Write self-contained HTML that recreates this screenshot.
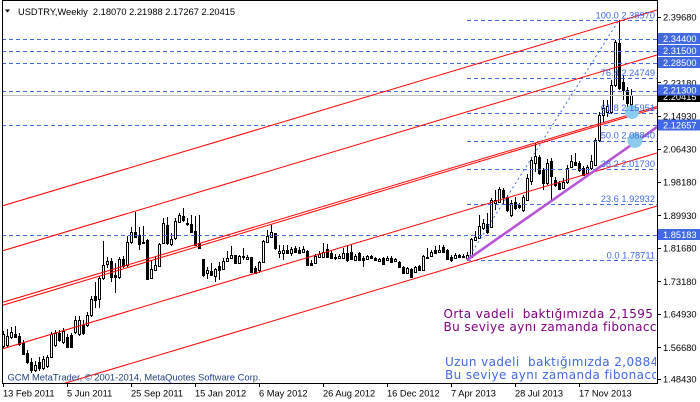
<!DOCTYPE html>
<html><head><meta charset="utf-8">
<style>
html,body{margin:0;padding:0;background:#fff;width:700px;height:402px;overflow:hidden}
svg{display:block}
.ax{font-family:"Liberation Sans",Arial,sans-serif;font-size:9.3px;fill:#000}
.bx{font-family:"Liberation Sans",Arial,sans-serif;font-size:9.3px;fill:#fff}
.fb{font-family:"Liberation Sans",Arial,sans-serif;font-size:9.3px;fill:#4169E1}
.big{font-family:"DejaVu Sans","Liberation Sans",sans-serif;font-size:12px;letter-spacing:0.4px}
</style></head><body>
<svg width="700" height="402" viewBox="0 0 700 402" xmlns="http://www.w3.org/2000/svg">
<defs><clipPath id="c"><rect x="3" y="1" width="654" height="382"/></clipPath>
<clipPath id="c2"><rect x="3" y="1" width="653" height="382"/></clipPath></defs>
<rect width="700" height="402" fill="#fff"/>
<g clip-path="url(#c)">
<!-- candles: wicks -->
<path stroke="#000" stroke-width="1" fill="none" d="M3.5 331V348M7.5 329V347M11.5 327V339M15.5 326V338M19.5 333V346M23.5 340V355M27.5 350V364M31.5 358V373M35.5 361V372M39.5 357V371M43.5 356V370M47.5 355V368M51.5 332V358M55.5 330V347M59.5 330V342M63.5 328V344M67.5 334V348M71.5 333V348M75.5 316V334M79.5 316V336M83.5 320V335M87.5 312V327M91.5 296V317M95.5 282V308M99.5 276V308M103.5 241V280M107.5 257V268M111.5 258V282M115.5 263V293M119.5 257V279M123.5 256V268M127.5 236V267M131.5 227V244M135.5 212V238M139.5 227V250M143.5 226V244M147.5 239V280M151.5 260V279M155.5 257V271M159.5 243V267M163.5 218V244M167.5 217V245M171.5 233V246M175.5 218V240M179.5 213V223M183.5 208V222M187.5 218V226M191.5 215V233M195.5 216V245M199.5 215V248M203.5 259V277M207.5 267V279M211.5 263V276M215.5 268V282M219.5 262V280M223.5 258V270M227.5 251V262M231.5 246V259M235.5 255V264M239.5 255V264M243.5 248V260M247.5 255V260M251.5 257V272M255.5 266V274M259.5 261V273M263.5 240V263M267.5 230V243M271.5 225V238M275.5 233V250M279.5 245V258M283.5 245V260M287.5 245V254M291.5 247V256M295.5 246V253M299.5 247V254M303.5 246V253M307.5 250V266M311.5 260V266M315.5 254V264M319.5 251V258M323.5 243V258M327.5 244V258M331.5 251V259M335.5 254V260M339.5 254V259M343.5 248V259M347.5 245V262M351.5 245V260M355.5 254V261M359.5 252V261M363.5 256V267M367.5 255V260M371.5 255V259M375.5 257V261M379.5 258V262M383.5 257V265M387.5 256V261M391.5 256V263M395.5 258V262M399.5 261V268M403.5 266V274M407.5 267V274M411.5 268V278M415.5 266V273M419.5 265V271M423.5 255V271M427.5 248V259M431.5 250V257M435.5 246V254M439.5 245V253M443.5 245V253M447.5 249V260M451.5 255V262M455.5 253V259M459.5 254V258M463.5 254V258M467.5 252V260M471.5 238V258M475.5 231V241M479.5 215V239M483.5 219V230M487.5 213V234M491.5 198V228M495.5 190V210M499.5 187V203M503.5 188V205M507.5 195V212M511.5 200V217M515.5 197V210M519.5 203V209M523.5 195V212M527.5 174V201M531.5 157V185M535.5 143V172M539.5 155V175M543.5 168V190M547.5 159V185M551.5 158V202M555.5 177V187M559.5 181V190M563.5 178V189M567.5 165V184M571.5 155V168M575.5 153V166M579.5 161V172M583.5 166V176M587.5 165V175M591.5 155V170M595.5 138V166M599.5 112V142M603.5 100V122M607.5 100V117M611.5 80V114M615.5 40V87M619.5 20V90M623.5 75V100M627.5 87V108M631.5 89V108"/>
<!-- candle bodies (outer) -->
<path fill="#000" d="M2 334h3v13h-3zM6 336h3v10h-3zM10 332h3v6h-3zM14 334h3v4h-3zM18 336h3v9h-3zM22 343h3v12h-3zM26 353h3v10h-3zM30 362h3v9h-3zM34 365h3v6h-3zM38 362h3v7h-3zM42 359h3v10h-3zM46 357h3v10h-3zM50 334h3v24h-3zM54 333h3v13h-3zM58 333h3v8h-3zM62 331h3v12h-3zM66 337h3v11h-3zM70 335h3v13h-3zM74 320h3v13h-3zM78 320h3v15h-3zM82 325h3v9h-3zM86 315h3v11h-3zM90 299h3v17h-3zM94 296h3v5h-3zM98 278h3v22h-3zM102 265h3v14h-3zM106 261h3v4h-3zM110 261h3v17h-3zM114 275h3v3h-3zM118 259h3v19h-3zM122 259h3v8h-3zM126 242h3v24h-3zM130 232h3v11h-3zM134 232h3v6h-3zM138 235h3v10h-3zM142 242h3v2h-3zM146 240h3v40h-3zM150 269h3v10h-3zM154 265h3v6h-3zM158 244h3v23h-3zM162 223h3v21h-3zM166 225h3v19h-3zM170 239h3v6h-3zM174 221h3v18h-3zM178 215h3v8h-3zM182 216h3v5h-3zM186 223h3v2h-3zM190 224h3v9h-3zM194 231h3v15h-3zM198 243h3v6h-3zM202 259h3v17h-3zM206 270h3v4h-3zM210 271h3v5h-3zM214 269h3v8h-3zM218 266h3v5h-3zM222 261h3v9h-3zM226 258h3v4h-3zM230 255h3v4h-3zM234 255h3v9h-3zM238 256h3v8h-3zM242 256h3v2h-3zM246 257h3v3h-3zM250 257h3v16h-3zM254 268h3v6h-3zM258 262h3v9h-3zM262 241h3v22h-3zM266 236h3v7h-3zM270 232h3v6h-3zM274 233h3v16h-3zM278 251h3v3h-3zM282 250h3v4h-3zM286 250h3v4h-3zM290 249h3v5h-3zM294 248h3v5h-3zM298 250h3v4h-3zM302 249h3v4h-3zM306 251h3v15h-3zM310 263h3v3h-3zM314 256h3v8h-3zM318 254h3v4h-3zM322 252h3v6h-3zM326 249h3v9h-3zM330 253h3v6h-3zM334 257h3v2h-3zM338 256h3v3h-3zM342 253h3v6h-3zM346 253h3v8h-3zM350 252h3v8h-3zM354 256h3v5h-3zM358 253h3v8h-3zM362 258h3v3h-3zM366 256h3v4h-3zM370 256h3v3h-3zM374 258h3v3h-3zM378 259h3v3h-3zM382 258h3v7h-3zM386 258h3v3h-3zM390 258h3v5h-3zM394 259h3v3h-3zM398 262h3v6h-3zM402 267h3v7h-3zM406 268h3v6h-3zM410 269h3v9h-3zM414 267h3v6h-3zM418 266h3v5h-3zM422 256h3v15h-3zM426 257h3v2h-3zM430 252h3v5h-3zM434 250h3v4h-3zM438 250h3v3h-3zM442 247h3v6h-3zM446 250h3v10h-3zM450 257h3v4h-3zM454 255h3v4h-3zM458 255h3v3h-3zM462 256h3v2h-3zM466 255h3v4h-3zM470 239h3v19h-3zM474 237h3v4h-3zM478 226h3v13h-3zM482 223h3v6h-3zM486 224h3v9h-3zM490 200h3v28h-3zM494 200h3v4h-3zM498 189h3v14h-3zM502 190h3v8h-3zM506 197h3v14h-3zM510 203h3v13h-3zM514 202h3v7h-3zM518 205h3v3h-3zM522 197h3v14h-3zM526 178h3v23h-3zM530 160h3v22h-3zM534 156h3v8h-3zM538 157h3v17h-3zM542 170h3v14h-3zM546 163h3v21h-3zM550 161h3v16h-3zM554 180h3v6h-3zM558 183h3v7h-3zM562 182h3v7h-3zM566 168h3v15h-3zM570 161h3v7h-3zM574 162h3v4h-3zM578 163h3v8h-3zM582 168h3v8h-3zM586 167h3v7h-3zM590 161h3v8h-3zM594 140h3v26h-3zM598 115h3v26h-3zM602 108h3v8h-3zM606 106h3v7h-3zM610 85h3v28h-3zM614 42h3v44h-3zM618 43h3v46h-3zM622 82h3v9h-3zM626 90h3v14h-3zM630 95h3v10h-3z"/>
<!-- white interiors -->
<path fill="#fff" d="M3 335h1v11h-1zM7 337h1v8h-1zM11 333h1v4h-1zM35 366h1v4h-1zM43 360h1v8h-1zM47 358h1v8h-1zM51 335h1v22h-1zM55 334h1v11h-1zM63 332h1v10h-1zM75 321h1v11h-1zM79 321h1v13h-1zM87 316h1v9h-1zM91 300h1v15h-1zM99 279h1v20h-1zM103 266h1v12h-1zM107 262h1v2h-1zM119 260h1v17h-1zM127 243h1v22h-1zM131 233h1v9h-1zM151 270h1v8h-1zM155 266h1v4h-1zM159 245h1v21h-1zM163 224h1v19h-1zM171 240h1v4h-1zM175 222h1v16h-1zM179 216h1v6h-1zM207 271h1v2h-1zM215 270h1v6h-1zM223 262h1v7h-1zM227 259h1v2h-1zM231 256h1v2h-1zM239 257h1v6h-1zM247 258h1v1h-1zM259 263h1v7h-1zM263 242h1v20h-1zM267 237h1v5h-1zM271 233h1v4h-1zM279 252h1v1h-1zM283 251h1v2h-1zM291 250h1v3h-1zM303 250h1v2h-1zM315 257h1v6h-1zM319 255h1v2h-1zM323 253h1v4h-1zM339 257h1v1h-1zM343 254h1v4h-1zM355 257h1v3h-1zM367 257h1v2h-1zM379 260h1v1h-1zM387 259h1v1h-1zM395 260h1v1h-1zM407 269h1v4h-1zM415 268h1v4h-1zM423 257h1v13h-1zM431 253h1v3h-1zM439 251h1v1h-1zM455 256h1v2h-1zM467 256h1v2h-1zM471 240h1v17h-1zM475 238h1v2h-1zM479 227h1v11h-1zM483 224h1v4h-1zM491 201h1v26h-1zM495 201h1v2h-1zM499 190h1v12h-1zM511 204h1v11h-1zM523 198h1v12h-1zM527 179h1v21h-1zM531 161h1v20h-1zM535 157h1v6h-1zM547 164h1v19h-1zM563 183h1v5h-1zM567 169h1v13h-1zM571 162h1v5h-1zM587 168h1v5h-1zM591 162h1v6h-1zM595 141h1v24h-1zM599 116h1v24h-1zM603 109h1v6h-1zM607 107h1v5h-1zM611 86h1v26h-1zM615 43h1v42h-1zM631 96h1v8h-1z"/>

<!-- current price line -->
<line x1="2" y1="95.5" x2="657" y2="95.5" stroke="#c0c0c0" stroke-width="1"/>

<!-- full-width dashed horizontal lines -->
<g stroke="#4169E1" stroke-width="1" stroke-dasharray="4,3" fill="none">
<line x1="2" y1="39.5" x2="657" y2="39.5"/>
<line x1="2" y1="51.5" x2="657" y2="51.5"/>
<line x1="2" y1="63.5" x2="657" y2="63.5"/>
<line x1="2" y1="91.5" x2="657" y2="91.5"/>
<line x1="2" y1="125.5" x2="657" y2="125.5"/>
<line x1="2" y1="235.5" x2="657" y2="235.5"/>
<!-- fib levels -->
<line x1="467" y1="20.5" x2="657" y2="20.5"/>
<line x1="467" y1="78.5" x2="657" y2="78.5"/>
<line x1="467" y1="113.5" x2="657" y2="113.5"/>
<line x1="467" y1="141.5" x2="657" y2="141.5"/>
<line x1="467" y1="169.5" x2="657" y2="169.5"/>
<line x1="467" y1="204.5" x2="657" y2="204.5"/>
<line x1="467" y1="260.5" x2="657" y2="260.5"/>
</g>
<!-- fib diagonal -->
<line x1="467" y1="260" x2="619" y2="20" stroke="#4169E1" stroke-width="1" stroke-dasharray="2,3"/>

<!-- red channel lines -->
<g stroke="#ff0000" stroke-width="1" fill="none">
<line x1="2" y1="206" x2="657" y2="10"/>
<line x1="2" y1="251" x2="657" y2="55"/>
<line x1="2" y1="302.5" x2="657" y2="106.5"/>
<line x1="2" y1="305.5" x2="657" y2="108"/>
<line x1="2" y1="349" x2="657" y2="153"/>
<line x1="2" y1="402" x2="657" y2="206"/>
</g>
<!-- purple trend line -->
<line x1="467" y1="260" x2="657" y2="127" stroke="#b555d6" stroke-width="2.6"/>

<!-- blue circles -->
<circle cx="632" cy="112" r="7" fill="#8ccbec"/>
<circle cx="635" cy="140.5" r="7.5" fill="#8ccbec"/>

<!-- fib labels -->
<g class="fb" text-anchor="end">
<text x="655" y="18.5">100.0 2.38970</text>
<text x="655" y="76">76.4 2.24749</text>
<text x="655" y="111">61.8 2.15951</text>
<text x="655" y="138.7">50.0 2.08840</text>
<text x="655" y="166.8">38.2 2.01730</text>
<text x="655" y="201.8">23.6 1.92932</text>
<text x="655" y="258.3">0.0 1.78711</text>
</g>
</g>

<!-- annotation texts -->
<g clip-path="url(#c2)">
<text class="big" x="443.5" y="318" fill="#800080">Orta vadeli&#160; baktığımızda 2,1595</text>
<text class="big" x="443.5" y="331" fill="#800080">Bu seviye aynı zamanda fibonacci</text>
<text class="big" x="445" y="366" fill="#4169E1">Uzun vadeli&#160; baktığımızda 2,0884</text>
<text class="big" x="445" y="379" fill="#4169E1">Bu seviye aynı zamanda fibonacci</text>
<text x="7.5" y="380.5" font-family="Liberation Sans, Arial, sans-serif" font-size="9.4" fill="#1f3f7f">GCM MetaTrader, © 2001-2014, MetaQuotes Software Corp.</text>
</g>

<!-- header -->
<polygon points="5,9.5 10,9.5 7.5,12.5" fill="#000"/>
<text x="18" y="15" class="ax">USDTRY,Weekly&#160; 2.18070 2.21988 2.17267 2.20415</text>

<!-- frame -->
<line x1="2.5" y1="0" x2="2.5" y2="384" stroke="#000"/>
<line x1="2" y1="0.5" x2="658" y2="0.5" stroke="#000"/>
<line x1="657.5" y1="0" x2="657.5" y2="384" stroke="#000"/>
<line x1="2" y1="383.5" x2="658" y2="383.5" stroke="#000"/>

<!-- right axis ticks -->
<path stroke="#000" d="M657 17.5h4M657 82.5h4M657 116.5h4M657 149.5h4M657 182.5h4M657 215.5h4M657 248.5h4M657 281.5h4M657 314.5h4M657 347.5h4M657 379.5h4"/>
<g class="ax">
<text x="663" y="20.5">2.39680</text>
<text x="663" y="86.5">2.23180</text>
<text x="663" y="119.5">2.14930</text>
<text x="663" y="152.6">2.06430</text>
<text x="663" y="185.6">1.98180</text>
<text x="663" y="219">1.89930</text>
<text x="663" y="251.6">1.81680</text>
<text x="663" y="285">1.73180</text>
<text x="663" y="317.3">1.64930</text>
<text x="663" y="351">1.56680</text>
<text x="663" y="382.3">1.48430</text>
</g>
<!-- price boxes -->
<rect x="658" y="91" width="42" height="11" fill="#000"/>
<text x="663" y="100" class="bx">2.20415</text>
<rect x="658" y="33" width="42" height="11" fill="#4169E1"/>
<rect x="658" y="45" width="42" height="11" fill="#4169E1"/>
<rect x="658" y="57" width="42" height="11" fill="#4169E1"/>
<rect x="658" y="84.5" width="42" height="11" fill="#4169E1"/>
<rect x="658" y="119.5" width="42" height="11" fill="#4169E1"/>
<rect x="658" y="229" width="42" height="11" fill="#4169E1"/>
<g class="bx">
<text x="663" y="42">2.34400</text>
<text x="663" y="54">2.31500</text>
<text x="663" y="66">2.28500</text>
<text x="663" y="93.5">2.21300</text>
<text x="663" y="128.5">2.12657</text>
<text x="663" y="238">1.85183</text>
</g>

<!-- bottom axis -->
<path stroke="#000" d="M3.5 383v4M67.5 383v4M131.5 383v4M195.5 383v4M259.5 383v4M323.5 383v4M387.5 383v4M451.5 383v4M515.5 383v4M579.5 383v4"/>
<g class="ax">
<text x="3" y="396.5">13 Feb 2011</text>
<text x="67" y="396.5">5 Jun 2011</text>
<text x="131" y="396.5">25 Sep 2011</text>
<text x="195" y="396.5">15 Jan 2012</text>
<text x="259" y="396.5">6 May 2012</text>
<text x="323" y="396.5">26 Aug 2012</text>
<text x="387" y="396.5">16 Dec 2012</text>
<text x="451" y="396.5">7 Apr 2013</text>
<text x="515" y="396.5">28 Jul 2013</text>
<text x="579" y="396.5">17 Nov 2013</text>
</g>
</svg>
</body></html>
